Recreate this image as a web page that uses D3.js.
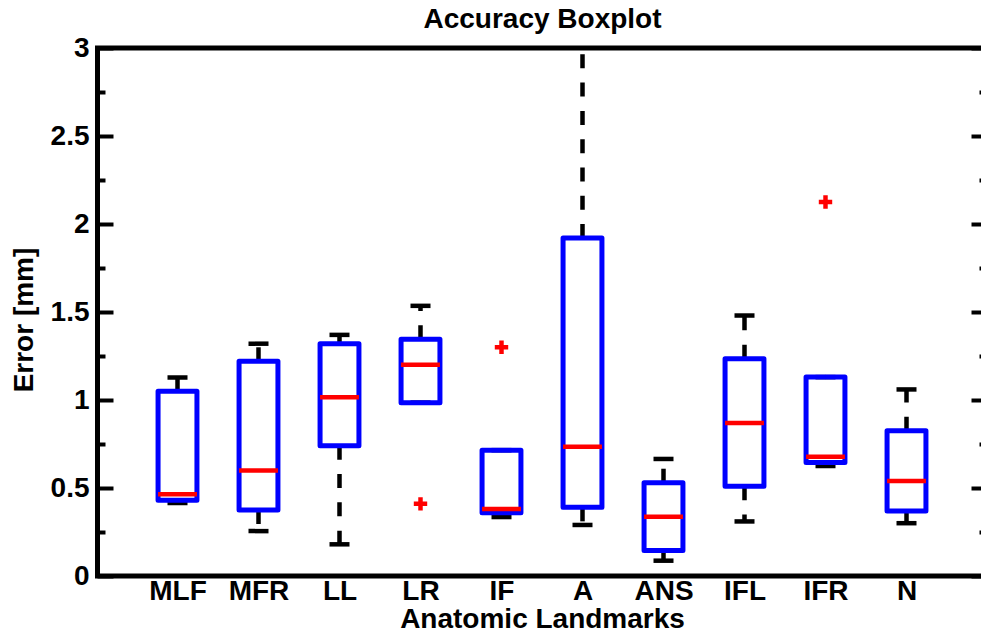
<!DOCTYPE html>
<html>
<head>
<meta charset="utf-8">
<style>
  body { margin: 0; background: #fff; }
  text { font-family: "Liberation Sans", Arial, Helvetica, sans-serif; font-weight: bold; }
</style>
<script src="https://d3js.org/d3.v7.min.js"></script>
</head>
<body>
<svg id="chart" width="981" height="636"></svg>
<script>
// data
var categories   = ["MLF", "MFR", "LL", "LR", "IF", "A", "ANS", "IFL", "IFR", "N"];
var lowWhisker   = [0.415, 0.255, 0.18, 0.985, 0.335, 0.29, 0.087, 0.31, 0.625, 0.30];
var q1           = [0.43, 0.375, 0.74, 0.985, 0.36, 0.39, 0.145, 0.51, 0.645, 0.37];
var medians      = [0.465, 0.60, 1.015, 1.20, 0.38, 0.735, 0.337, 0.87, 0.678, 0.54];
var q3           = [1.05, 1.22, 1.32, 1.345, 0.715, 1.92, 0.53, 1.235, 1.13, 0.825];
var highWhisker  = [1.128, 1.32, 1.37, 1.535, 0.715, 3.3, 0.665, 1.48, 1.13, 1.06];
var outlierCats  = ["LR", "IF", "IFR"];
var outlierVals  = [0.41, 1.30, 2.125];
var majorTicks   = [0, 0.5, 1, 1.5, 2, 2.5, 3];
var minorTicks   = [0.25, 0.75, 1.25, 1.75, 2.25, 2.75];

var svg = d3.select("#chart");
var mLeft = 97.5, mRight = 987.5, mTop = 48, mBottom = 576;

var x = d3.scaleLinear().domain([0, 11]).range([mLeft - 1, mRight]);
var y = d3.scaleLinear().domain([0, 3]).range([mBottom, mTop]);
var idx = function(c) { return categories.indexOf(c) + 1; };

svg.append("defs").append("clipPath").attr("id", "clip")
  .append("rect").attr("x", mLeft).attr("y", mTop).attr("width", mRight - mLeft).attr("height", mBottom - mTop);

// left axis, major + minor ticks pointing in
var yAxis = svg.append("g").attr("transform", "translate(" + mLeft + ",0)")
  .call(d3.axisLeft(y).tickValues(majorTicks).tickSize(-16).tickPadding(8)
    .tickFormat(function(d) { return d; }));
yAxis.select(".domain").remove();
yAxis.selectAll("line").attr("stroke", "#000").attr("stroke-width", 4);
yAxis.selectAll("text").attr("font-size", 28).attr("fill", "#000");

var yMinor = svg.append("g").attr("transform", "translate(" + mLeft + ",0)")
  .call(d3.axisLeft(y).tickValues(minorTicks).tickSize(-8).tickFormat(""));
yMinor.select(".domain").remove();
yMinor.selectAll("line").attr("stroke", "#000").attr("stroke-width", 4);

// right side ticks
var yRight = svg.append("g").attr("transform", "translate(" + mRight + ",0)")
  .call(d3.axisRight(y).tickValues(majorTicks).tickSize(-16).tickFormat(""));
yRight.select(".domain").remove();
yRight.selectAll("line").attr("stroke", "#000").attr("stroke-width", 4);
var yRightMinor = svg.append("g").attr("transform", "translate(" + mRight + ",0)")
  .call(d3.axisRight(y).tickValues(minorTicks).tickSize(-8).tickFormat(""));
yRightMinor.select(".domain").remove();
yRightMinor.selectAll("line").attr("stroke", "#000").attr("stroke-width", 4);

// category labels
var xAxis = svg.append("g").attr("transform", "translate(0," + mBottom + ")")
  .call(d3.axisBottom(x).tickValues(d3.range(1, 11)).tickSize(0).tickPadding(4)
    .tickFormat(function(d) { return categories[d - 1]; }));
xAxis.select(".domain").remove();
xAxis.selectAll("text").attr("font-size", 28).attr("fill", "#000");

// frame
svg.append("rect")
  .attr("x", mLeft).attr("y", mTop).attr("width", mRight - mLeft).attr("height", mBottom - mTop)
  .attr("fill", "none").attr("stroke", "#000").attr("stroke-width", 5);

var plot = svg.append("g").attr("clip-path", "url(#clip)");
var half = 0.24;

var boxes = plot.selectAll(".box").data(categories).enter().append("g").attr("class", "box");

// whiskers, drawn outward from the box
boxes.append("line")
  .attr("x1", function(d, i) { return x(i + 1); }).attr("x2", function(d, i) { return x(i + 1); })
  .attr("y1", function(d, i) { return y(q3[i]); }).attr("y2", function(d, i) { return y(highWhisker[i]); })
  .attr("stroke", "#000").attr("stroke-width", 4.5).attr("stroke-dasharray", "14,14.3");
boxes.append("line")
  .attr("x1", function(d, i) { return x(i + 1); }).attr("x2", function(d, i) { return x(i + 1); })
  .attr("y1", function(d, i) { return y(q1[i]); }).attr("y2", function(d, i) { return y(lowWhisker[i]); })
  .attr("stroke", "#000").attr("stroke-width", 4.5).attr("stroke-dasharray", "14,14.3");

// caps
boxes.append("line")
  .attr("x1", function(d, i) { return x(i + 1) - 10; }).attr("x2", function(d, i) { return x(i + 1) + 10; })
  .attr("y1", function(d, i) { return y(highWhisker[i]); }).attr("y2", function(d, i) { return y(highWhisker[i]); })
  .attr("stroke", "#000").attr("stroke-width", 4.5);
boxes.append("line")
  .attr("x1", function(d, i) { return x(i + 1) - 10; }).attr("x2", function(d, i) { return x(i + 1) + 10; })
  .attr("y1", function(d, i) { return y(lowWhisker[i]); }).attr("y2", function(d, i) { return y(lowWhisker[i]); })
  .attr("stroke", "#000").attr("stroke-width", 4.5);

// boxes
boxes.append("rect")
  .attr("x", function(d, i) { return x(i + 1 - half); })
  .attr("width", function() { return x(1 + half) - x(1 - half); })
  .attr("y", function(d, i) { return y(q3[i]); })
  .attr("height", function(d, i) { return y(q1[i]) - y(q3[i]); })
  .attr("fill", "none").attr("stroke", "#0000ff").attr("stroke-width", 5)
  .attr("stroke-linejoin", "round");

// medians
boxes.append("line")
  .attr("x1", function(d, i) { return x(i + 1 - half); }).attr("x2", function(d, i) { return x(i + 1 + half); })
  .attr("y1", function(d, i) { return y(medians[i]); }).attr("y2", function(d, i) { return y(medians[i]); })
  .attr("stroke", "#ff0000").attr("stroke-width", 4.5);

// outliers
plot.selectAll(".outlier").data(outlierCats).enter().append("path")
  .attr("class", "outlier")
  .attr("d", d3.symbol().type(d3.symbolCross).size(100))
  .attr("transform", function(d, i) { return "translate(" + x(idx(d)) + "," + y(outlierVals[i]) + ")"; })
  .attr("fill", "#ff0000");

// titles
svg.append("text").attr("x", (mLeft + mRight) / 2).attr("y", 28)
  .attr("text-anchor", "middle").attr("font-size", 28).text("Accuracy Boxplot");
svg.append("text").attr("x", (mLeft + mRight) / 2).attr("y", 628)
  .attr("text-anchor", "middle").attr("font-size", 28).text("Anatomic Landmarks");
svg.append("text").attr("transform", "translate(33,320) rotate(-90)")
  .attr("text-anchor", "middle").attr("font-size", 28).text("Error [mm]");
</script>
</body>
</html>
